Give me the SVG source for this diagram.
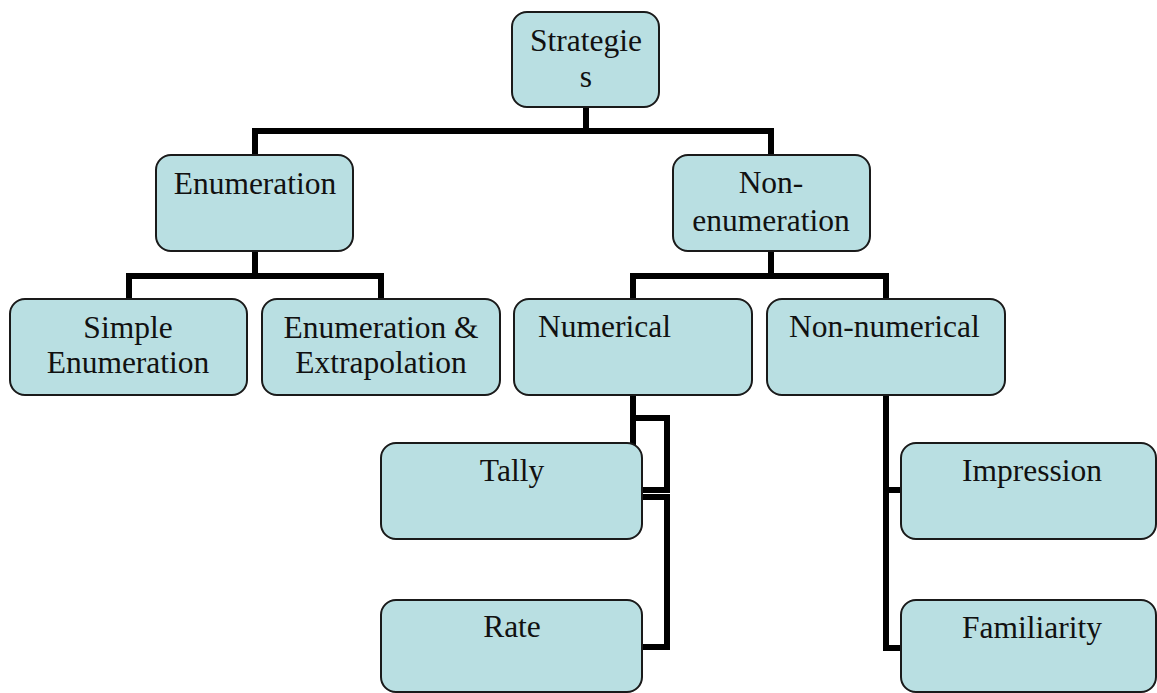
<svg xmlns="http://www.w3.org/2000/svg" width="1157" height="693" viewBox="0 0 1157 693">
<style>
.conn{fill:none;stroke:#000;stroke-width:6;stroke-linejoin:miter;stroke-linecap:butt}
.box{fill:#B9DFE2;stroke:#1a1a1a;stroke-width:2}
.t{font-family:"Liberation Serif","Times New Roman",serif;font-size:31.5px;fill:#111}
.c{text-anchor:middle}
</style>
<rect width="1157" height="693" fill="#fff"/>
<g id="connectors">
<path class="conn" d="M586,107 V131"/>
<path class="conn" d="M255,155 V131 H771 V155"/>
<path class="conn" d="M255,251 V276"/>
<path class="conn" d="M129,299 V276 H381 V299"/>
<path class="conn" d="M771,251 V276"/>
<path class="conn" d="M633,299 V276 H886 V299"/>
<path class="conn" d="M633,395 V418 H667 V490 H642"/>
<path class="conn" d="M633,395 V497 H667 V647 H642"/>
<path class="conn" d="M886,395 V648 H902"/>
<path class="conn" d="M886,490 H902"/>
</g>
<g id="strategies"><rect class="box" x="512" y="12" width="147" height="95" rx="15"/><text class="t c" x="586" y="51">Strategie</text><text class="t c" x="586" y="87">s</text></g>
<g id="enumeration"><rect class="box" x="156" y="155" width="197" height="96" rx="15"/><text class="t c" x="255" y="194">Enumeration</text></g>
<g id="non-enumeration"><rect class="box" x="673" y="155" width="197" height="96" rx="15"/><text class="t c" x="771" y="193">Non-</text><text class="t c" x="771" y="231">enumeration</text></g>
<g id="simple-enumeration"><rect class="box" x="10" y="299" width="237" height="96" rx="15"/><text class="t c" x="128" y="338">Simple</text><text class="t c" x="128" y="373">Enumeration</text></g>
<g id="enumeration-extrapolation"><rect class="box" x="262" y="299" width="238" height="96" rx="15"/><text class="t c" x="381" y="338">Enumeration &amp;</text><text class="t c" x="381" y="373">Extrapolation</text></g>
<g id="numerical"><rect class="box" x="514" y="299" width="238" height="96" rx="15"/><text class="t" x="538" y="337">Numerical</text></g>
<g id="non-numerical"><rect class="box" x="767" y="299" width="238" height="96" rx="15"/><text class="t" x="789" y="337">Non-numerical</text></g>
<g id="tally"><rect class="box" x="381" y="443" width="261" height="96" rx="15"/><text class="t c" x="512" y="481">Tally</text></g>
<g id="rate"><rect class="box" x="381" y="600" width="261" height="92" rx="15"/><text class="t c" x="512" y="637">Rate</text></g>
<g id="impression"><rect class="box" x="901" y="443" width="255" height="96" rx="15"/><text class="t c" x="1032" y="481">Impression</text></g>
<g id="familiarity"><rect class="box" x="901" y="600" width="255" height="92" rx="15"/><text class="t c" x="1032" y="638">Familiarity</text></g>
</svg>
